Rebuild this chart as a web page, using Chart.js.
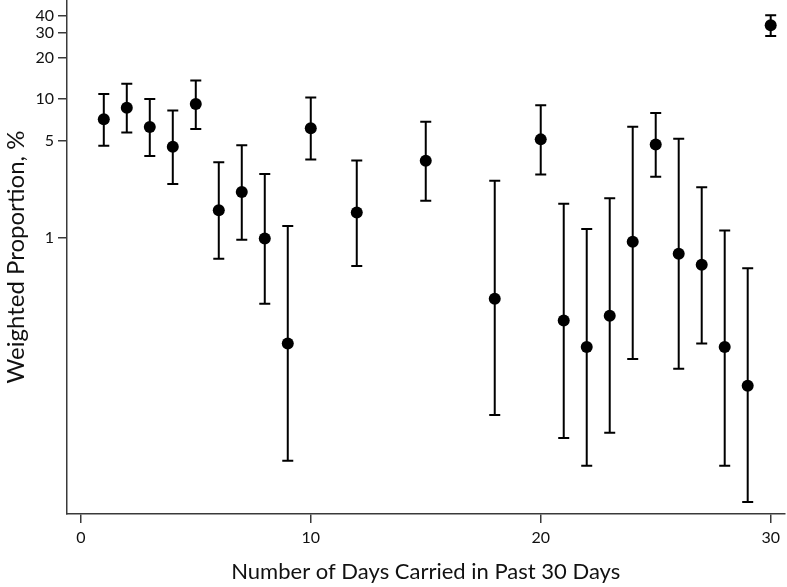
<!DOCTYPE html>
<html><head><meta charset="utf-8">
<script src="https://cdn.jsdelivr.net/npm/chart.js@4"></script>
<style>html,body{margin:0;padding:0;background:#fff}#wrap{width:787px;height:587px}</style>
</head><body><div id="wrap"><canvas id="c" width="787" height="587"></canvas></div>
<script>
const days       = [1, 2, 3, 4, 5, 6, 7, 8, 9, 10, 12, 15, 18, 20, 21, 22, 23, 24, 25, 26, 27, 28, 29, 30];
const proportion = [7.13, 8.65, 6.27, 4.52, 9.2, 1.57, 2.13, 0.98, 0.171, 6.14, 1.51, 3.58, 0.36, 5.11, 0.251, 0.161, 0.271, 0.93, 4.70, 0.76, 0.634, 0.161, 0.0845, 34.1];
const lowerCI    = [4.59, 5.74, 3.87, 2.43, 6.07, 0.70, 0.96, 0.331, 0.0243, 3.66, 0.62, 1.84, 0.0519, 2.85, 0.0354, 0.0223, 0.0387, 0.132, 2.74, 0.112, 0.171, 0.0223, 0.0122, 28.5];
const upperCI    = [10.87, 12.9, 10.0, 8.28, 13.6, 3.49, 4.63, 2.87, 1.21, 10.28, 3.60, 6.85, 2.57, 9.0, 1.75, 1.15, 1.92, 6.3, 7.92, 5.16, 2.30, 1.12, 0.597, 40.3];
const xTicks = [0, 10, 20, 30];
const yTicks = [1, 5, 10, 20, 30, 40];

const FONT = 'Lato, "Open Sans", sans-serif';
const AXIS = '#3a3a3a';

// let the plot area reach the canvas edges (no automatic padding for point radius)
try {
  const SC = Chart.registry.getController('scatter');
  if (SC && SC.prototype) SC.prototype.getMaxOverflow = function () { return 0; };
} catch (e) {}

const errorBars = {
  id: 'errorBars',
  beforeDatasetsDraw(chart) {
    const {ctx, scales: {x, y}} = chart;
    ctx.save();
    ctx.strokeStyle = '#000';
    ctx.lineWidth = 2;
    const cap = 5.5;
    days.forEach((d, i) => {
      const px = x.getPixelForValue(d);
      const pt = y.getPixelForValue(upperCI[i]);
      const pb = y.getPixelForValue(lowerCI[i]);
      ctx.beginPath();
      ctx.moveTo(px, pt); ctx.lineTo(px, pb);
      ctx.moveTo(px - cap, pt); ctx.lineTo(px + cap, pt);
      ctx.moveTo(px - cap, pb); ctx.lineTo(px + cap, pb);
      ctx.stroke();
    });
    ctx.restore();
  }
};

new Chart(document.getElementById('c'), {
  type: 'scatter',
  data: {
    datasets: [{
      data: days.map((d, i) => ({x: d, y: proportion[i]})),
      backgroundColor: '#000',
      borderColor: '#000',
      pointRadius: 6,
      pointHoverRadius: 6,
      borderWidth: 0,
      clip: false
    }]
  },
  options: {
    responsive: false,
    animation: false,
    layout: {padding: {top: 0, right: 2.5, bottom: 0, left: 0}},
    plugins: {legend: {display: false}, tooltip: {enabled: false}},
    scales: {
      x: {
        type: 'linear', min: -0.6, max: 30.6,
        afterBuildTicks: s => { s.ticks = xTicks.map(v => ({value: v})); },
        afterFit: s => { s.height = 73; s.paddingLeft = 0; s.paddingRight = 0; },
        border: {display: true, color: AXIS, width: 1.5},
        grid: {display: true, drawOnChartArea: false, drawTicks: true, tickLength: 9, color: AXIS, lineWidth: 1.5},
        ticks: {font: {family: FONT, size: 16}, color: '#111', padding: 5, maxRotation: 0,
                callback: v => String(v)},
        title: {display: true, text: 'Number of Days Carried in Past 30 Days',
                font: {family: FONT, size: 22}, color: '#111', padding: {top: 0, bottom: 2}}
      },
      y: {
        type: 'logarithmic', min: 0.01, max: 52,
        afterBuildTicks: s => { s.ticks = yTicks.map(v => ({value: v})); },
        afterFit: s => { s.width = 67; s.paddingTop = 0; s.paddingBottom = 0; },
        border: {display: true, color: AXIS, width: 1.5},
        grid: {display: true, drawOnChartArea: false, drawTicks: true, tickLength: 9, color: AXIS, lineWidth: 1.5},
        ticks: {font: {family: FONT, size: 16}, color: '#111', padding: 4,
                callback: v => String(v)},
        title: {display: true, text: 'Weighted Proportion, %',
                font: {family: FONT, size: 24}, color: '#111', padding: {top: 2, bottom: 0}}
      }
    }
  },
  plugins: [errorBars]
});
</script></body></html>
